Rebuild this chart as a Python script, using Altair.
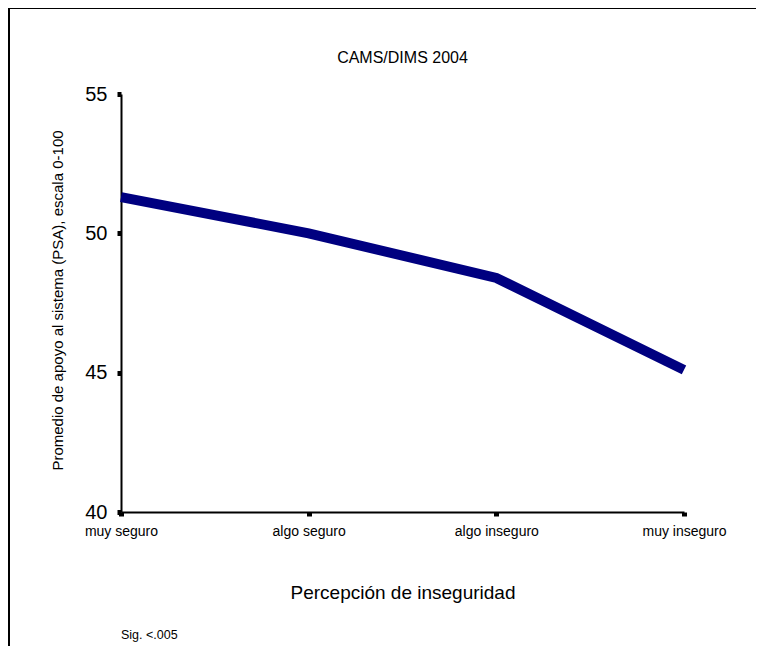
import altair as alt
import pandas as pd

categories = ["muy seguro", "algo seguro", "algo inseguro", "muy inseguro"]
values = [51.3, 50.0, 48.4, 45.1]
y_ticks = [40, 45, 50, 55]
chart_title = "CAMS/DIMS 2004"
x_title = "Percepción de inseguridad"
y_title = "Promedio de apoyo al sistema (PSA), escala 0-100"
note = "Sig. <.005"

FONT = "Liberation Sans"
df = pd.DataFrame({"cat": categories, "val": values})

line = alt.Chart(df).mark_line(color="#000080", strokeWidth=10, strokeCap="butt").encode(
    x=alt.X("cat:N", sort=categories,
            scale=alt.Scale(type="point", padding=0),
            axis=alt.Axis(title=x_title, labelAngle=0, labelFontSize=14, labelPadding=8,
                          titleFontSize=19, titleFontWeight="normal", titleY=80,
                          titleBaseline="middle", labelFont=FONT, titleFont=FONT,
                          tickSize=4, tickWidth=5, domainWidth=2)),
    y=alt.Y("val:Q", scale=alt.Scale(domain=[40, 55], nice=False, zero=False),
            axis=alt.Axis(title=y_title, values=y_ticks, labelFontSize=20, labelPadding=10,
                          titleFontSize=15, titleFontWeight="normal", titleX=-64, titleY=206,
                          titleAngle=270, titleAlign="center", titleBaseline="middle",
                          labelFont=FONT, titleFont=FONT,
                          tickSize=4, tickWidth=5, domainWidth=2, grid=False)),
)

title_layer = alt.Chart(pd.DataFrame({"t": [chart_title]})).mark_text(
    align="center", baseline="middle", fontSize=16, font=FONT, color="black"
).encode(x=alt.value(281.5), y=alt.value(-36), text="t:N")

note_layer = alt.Chart(pd.DataFrame({"t": [note]})).mark_text(
    align="left", baseline="middle", fontSize=12.5, font=FONT, color="black"
).encode(x=alt.value(0), y=alt.value(541), text="t:N")

frame_top = alt.Chart(pd.DataFrame({"t": [0]})).mark_rule(
    color="black", strokeWidth=2, clip=False
).encode(x=alt.value(-112), x2=alt.value(1200), y=alt.value(-86))

frame_left = alt.Chart(pd.DataFrame({"t": [0]})).mark_rule(
    color="black", strokeWidth=2, clip=False
).encode(x=alt.value(-112), y=alt.value(-86), y2=alt.value(1200))

chart = alt.layer(frame_top, frame_left, title_layer, line, note_layer).properties(
    width=563, height=418,
    padding={"left": 113, "top": 86, "right": 72, "bottom": 134},
    autosize="none",
).configure_view(stroke=None).configure_axis(
    domainColor="black", tickColor="black", labelColor="black", titleColor="black", grid=False
)

chart.save("out.html", embed_options={"renderer": "svg", "actions": False})
